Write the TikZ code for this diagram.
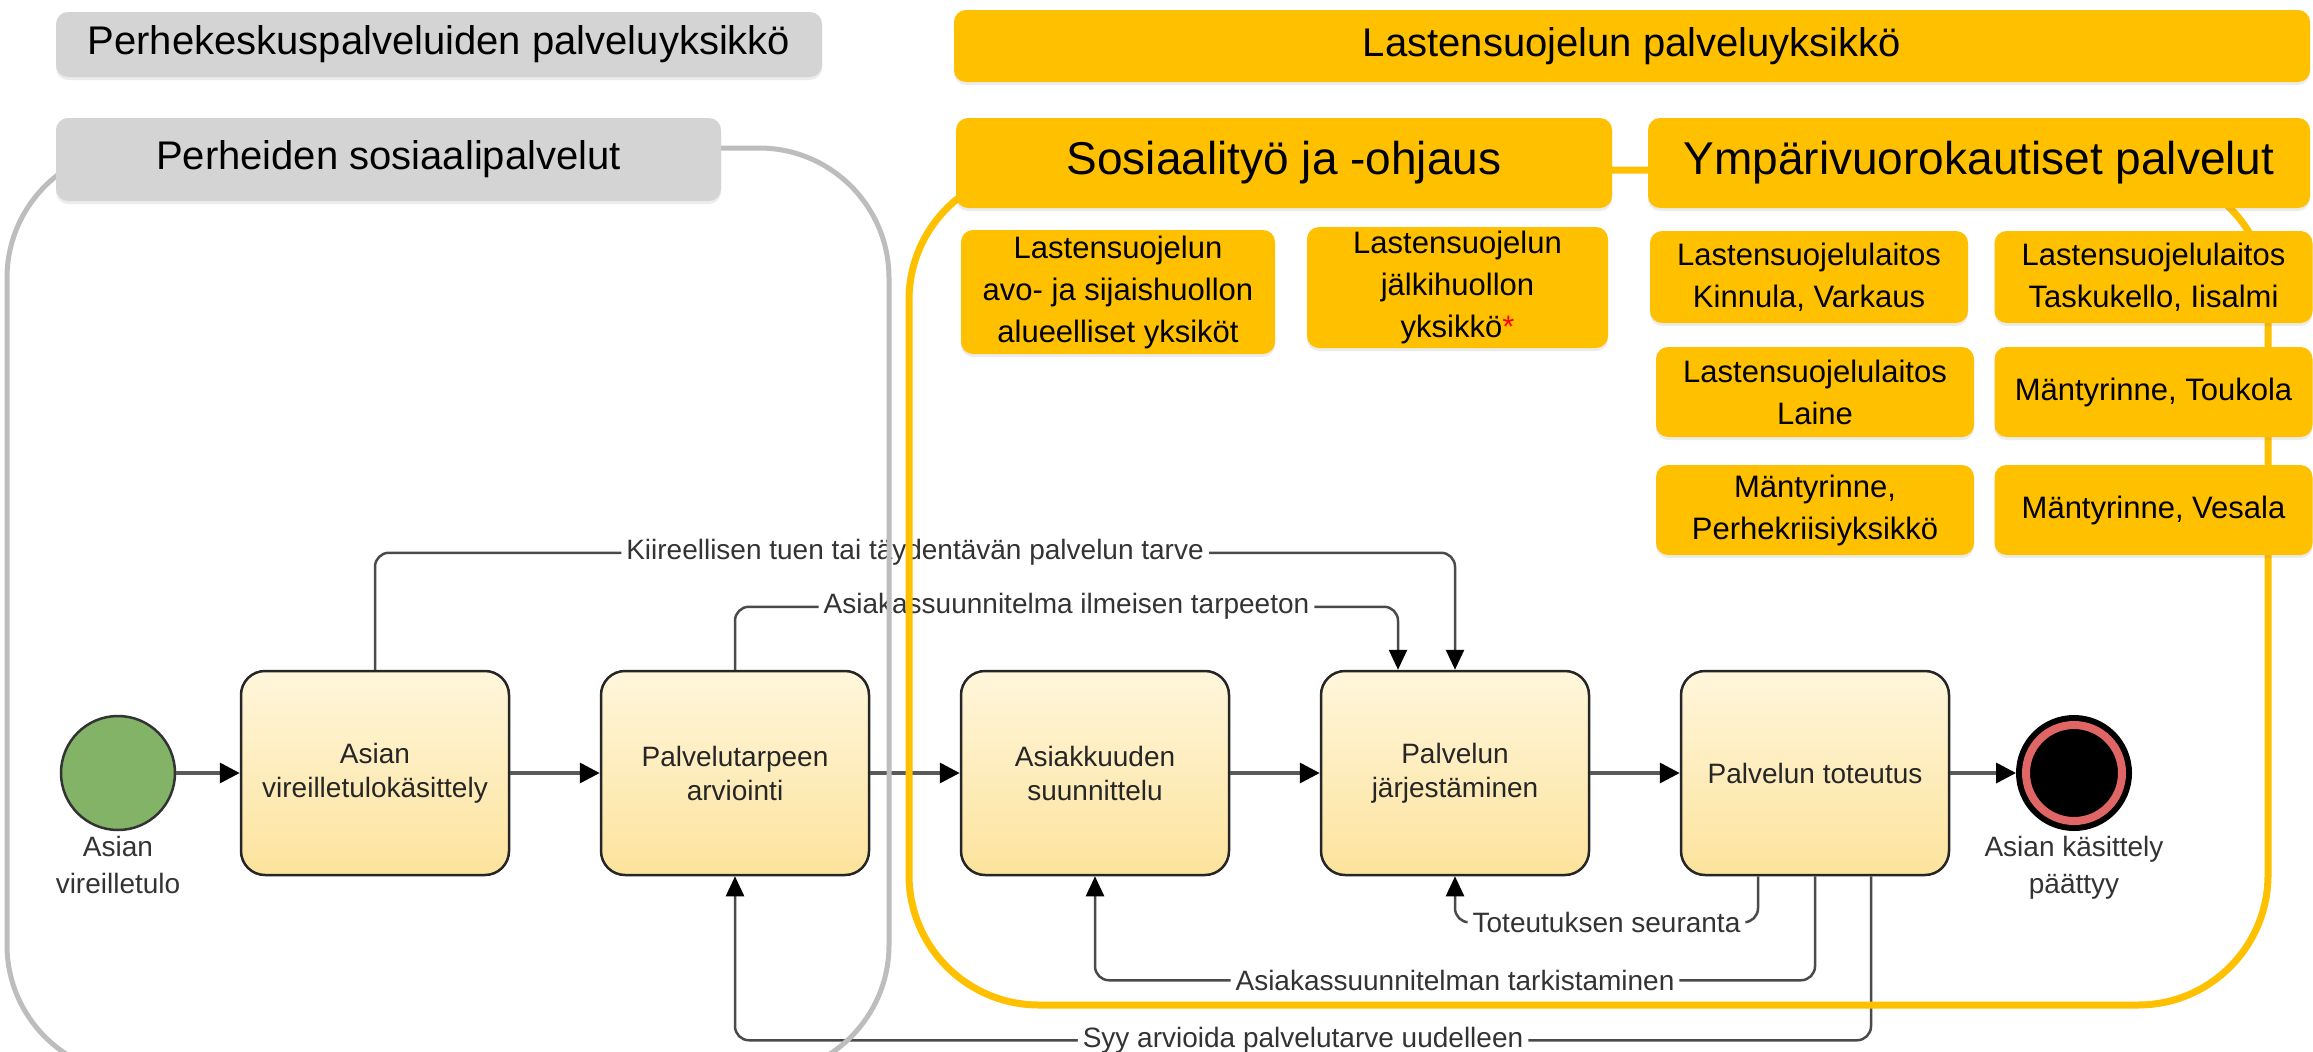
\documentclass[tikz,border=0pt]{standalone}
\usepackage{fontspec}
\setmainfont{Liberation Sans}
\usetikzlibrary{arrows.meta,shadows,calc}
\definecolor{ygold}{HTML}{FFC000}
\definecolor{hgray}{HTML}{D4D4D4}
\definecolor{ogray}{HTML}{BDBDBD}
\definecolor{boxtop}{HTML}{FFF6DC}
\definecolor{boxbot}{HTML}{FCE39C}
\definecolor{startg}{HTML}{82B366}
\definecolor{endred}{HTML}{E06666}
\definecolor{connc}{HTML}{4A4A4A}
\definecolor{flowc}{HTML}{5A5A5A}
\begin{document}
\begin{tikzpicture}[x=1pt,y=-1pt,
  hbox/.style={rectangle, rounded corners=12pt, inner sep=0pt, align=center, text=black},
  graybox/.style={hbox, fill=hgray, drop shadow={shadow xshift=0pt,shadow yshift=-3pt,opacity=0.15}},
  goldbox/.style={hbox, fill=ygold, drop shadow={shadow xshift=0pt,shadow yshift=-3pt,opacity=0.15}},
  bigfont/.style={font=\fontsize{40}{48}\selectfont},
  hugefont/.style={font=\fontsize{46}{54}\selectfont},
  smallbox/.style={goldbox, font=\fontsize{31}{42}\selectfont},
  proc/.style={rectangle, rounded corners=24pt, draw=black!85, line width=2.5pt,
    top color=boxtop, bottom color=boxbot, minimum width=268, minimum height=204,
    inner sep=0pt, align=center, font=\fontsize{28}{34}\selectfont, text=black!85},
  flow/.style={draw=flowc, line width=3.5pt, -{Triangle[length=20pt,width=20pt,color=black]}},
  conn/.style={draw=connc, line width=2.5pt, rounded corners=14pt, -{Triangle[length=20pt,width=18pt,color=black]}},
  lbl/.style={fill=white, inner sep=5pt, text=black!80, font=\fontsize{28}{34}\selectfont},
  plbl/.style={inner sep=0pt, align=center, text=black!80, font=\fontsize{28}{37}\selectfont}
]
\useasboundingbox (0,0) rectangle (2313,1052);
\clip (0,0) rectangle (2313,1052);
\fill[white] (0,0) rectangle (2313,1052);

% process nodes
\node[circle, minimum size=114, fill=startg, draw=black!80, line width=2.5pt] (start) at (118,773) {};
\node[plbl, anchor=north] (startl) at (118,836) {Asian\\vireilletulo};
\node[proc] (b1) at (375,773) {Asian\\vireilletulokäsittely};
\node[proc] (b2) at (735,773) {Palvelutarpeen\\arviointi};
\node[proc] (b3) at (1095,773) {Asiakkuuden\\suunnittelu};
\node[proc] (b4) at (1455,773) {Palvelun\\järjestäminen};
\node[proc] (b5) at (1815,773) {Palvelun toteutus};
\node[circle, minimum size=110, fill=black, draw=black, line width=6pt] (end) at (2074,773) {};
\draw[endred, line width=8pt] (end.center) circle (48);
\node[plbl, anchor=north] (endl) at (2074,836) {Asian käsittely\\päättyy};

% main flow
\draw[flow] (start.east) -- (b1.west);
\draw[flow] (b1.east) -- (b2.west);
\draw[flow] (b2.east) -- (b3.west);
\draw[flow] (b3.east) -- (b4.west);
\draw[flow] (b4.east) -- (b5.west);
\draw[flow] (b5.east) -- (end.west);

% upper connectors
\draw[conn] (b1.north) -- ++(0,-117) -- node[lbl]{Kiireellisen tuen tai täydentävän palvelun tarve} ($(b4.north)+(0,-117)$) -- (b4.north);
\draw[conn] (b2.north) -- ++(0,-63) -- node[lbl]{Asiakassuunnitelma ilmeisen tarpeeton} ($(b4.north)+(-57,-63)$) -- ($(b4.north)+(-57,0)$);

% lower connectors
\draw[conn] ($(b5.south)+(-57,0)$) -- ++(0,46) -- node[lbl]{Toteutuksen seuranta} ($(b4.south)+(0,46)$) -- (b4.south);
\draw[conn] (b5.south) -- ++(0,104) -- node[lbl]{Asiakassuunnitelman tarkistaminen} ($(b3.south)+(0,104)$) -- (b3.south);
\draw[conn] ($(b5.south)+(56,0)$) -- ++(0,164) -- node[lbl]{Syy arvioida palvelutarve uudelleen} ($(b2.south)+(0,164)$) -- (b2.south);

% group outlines
\draw[ogray, line width=5pt, rounded corners=130pt] (7,148) rectangle (889,1075);
\draw[ygold, line width=7pt, rounded corners=130pt] (909,170) rectangle (2268,1005);

% headers
\node[graybox, bigfont, minimum width=766, minimum height=65] (h1) at (439,44.5) {Perhekeskuspalveluiden palveluyksikkö};
\node[graybox, bigfont, minimum width=665, minimum height=83] (h2) at (388.5,159.5) {Perheiden sosiaalipalvelut};
\node[goldbox, bigfont, minimum width=1356, minimum height=72] (y1) at (1632,46) {Lastensuojelun palveluyksikkö};
\node[goldbox, hugefont, minimum width=656, minimum height=90] (y2) at (1284,163) {Sosiaalityö ja -ohjaus};
\node[goldbox, hugefont, minimum width=662, minimum height=90] (y3) at (1979,163) {Ympärivuorokautiset palvelut};

% small units
\node[smallbox, minimum width=314, minimum height=124] (s1) at (1118,292) {Lastensuojelun\\avo- ja sijaishuollon\\alueelliset yksiköt};
\node[smallbox, minimum width=301, minimum height=121] (s2) at (1457.5,287.5) {Lastensuojelun\\jälkihuollon\\yksikkö\textcolor{red}{*}};
\node[smallbox, minimum width=318, minimum height=92] (s3) at (1809,277) {Lastensuojelulaitos\\Kinnula, Varkaus};
\node[smallbox, minimum width=318, minimum height=92] (s4) at (2153.5,277) {Lastensuojelulaitos\\Taskukello, Iisalmi};
\node[smallbox, minimum width=318, minimum height=90] (s5) at (1815,392) {Lastensuojelulaitos\\Laine};
\node[smallbox, minimum width=318, minimum height=90] (s6) at (2153.5,392) {Mäntyrinne, Toukola};
\node[smallbox, minimum width=318, minimum height=90] (s7) at (1815,510) {Mäntyrinne,\\Perhekriisiyksikkö};
\node[smallbox, minimum width=318, minimum height=90] (s8) at (2153.5,510) {Mäntyrinne, Vesala};
\end{tikzpicture}
\end{document}
